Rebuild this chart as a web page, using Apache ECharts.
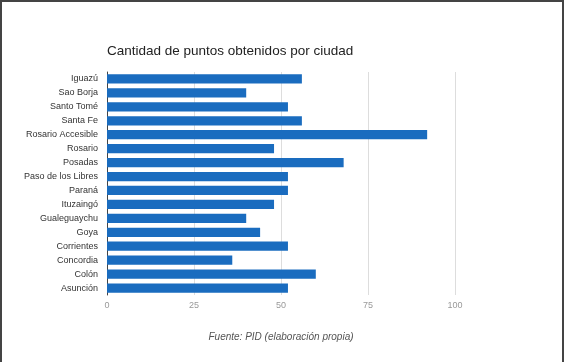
<!DOCTYPE html>
<html>
<head>
<meta charset="utf-8">
<script src="https://cdn.jsdelivr.net/npm/echarts@6/dist/echarts.min.js"></script>
<style>
  html, body { margin: 0; padding: 0; background: #fff; }
  #frame { position: absolute; left: 0; top: 0; width: 564px; height: 362px; box-sizing: border-box;
           border-top: 2px solid #444; border-left: 2px solid #444; border-right: 2px solid #444; }
  #chart { position: absolute; left: 0; top: 0; width: 566px; height: 362px; }
</style>
</head>
<body>
<div id="chart"></div>
<div id="frame"></div>
<script>
// ciudades (de abajo hacia arriba, como las dibuja el eje de categorías)
var ciudades = ['Asunción', 'Colón', 'Concordia', 'Corrientes', 'Goya', 'Gualeguaychu',
  'Ituzaingó', 'Paraná', 'Paso de los Libres', 'Posadas', 'Rosario', 'Rosario Accesible',
  'Santa Fe', 'Santo Tomé', 'Sao Borja', 'Iguazú'];
var puntos = [52, 60, 36, 52, 44, 40, 48, 52, 52, 68, 48, 92, 56, 52, 40, 56];

var chart = echarts.init(document.getElementById('chart'), null, { renderer: 'canvas' });

var option = {
  animation: false,
  textStyle: { fontFamily: 'Liberation Sans, Arial, sans-serif' },
  title: [
    {
      text: 'Cantidad de puntos obtenidos por ciudad',
      left: 107, top: 44, padding: 0,
      textStyle: { fontSize: 13.5, fontWeight: 'normal', color: '#222' }
    },
    {
      text: 'Fuente: PID (elaboración propia)',
      left: 281, top: 332, padding: 0, textAlign: 'center',
      textStyle: { fontSize: 10, fontWeight: 'normal', fontStyle: 'italic', color: '#555' }
    }
  ],
  grid: { left: 107, right: 111, top: 72, bottom: 67 },
  xAxis: {
    type: 'value',
    min: 0, max: 100, interval: 25,
    axisLine: { show: false },
    axisTick: { show: false },
    axisLabel: { color: '#999', fontSize: 9, margin: 6 },
    splitLine: { lineStyle: { color: '#ddd', width: 1 } }
  },
  yAxis: {
    type: 'category',
    data: ciudades,
    axisLine: { show: true, lineStyle: { color: '#444', width: 1 } },
    axisTick: { show: false },
    axisLabel: { color: '#333', fontSize: 9, margin: 9 }
  },
  series: [
    {
      type: 'bar',
      data: puntos,
      barCategoryGap: '34%',
      itemStyle: { color: '#1a6cbf' }
    }
  ]
};
chart.setOption(option);
</script>
</body>
</html>
